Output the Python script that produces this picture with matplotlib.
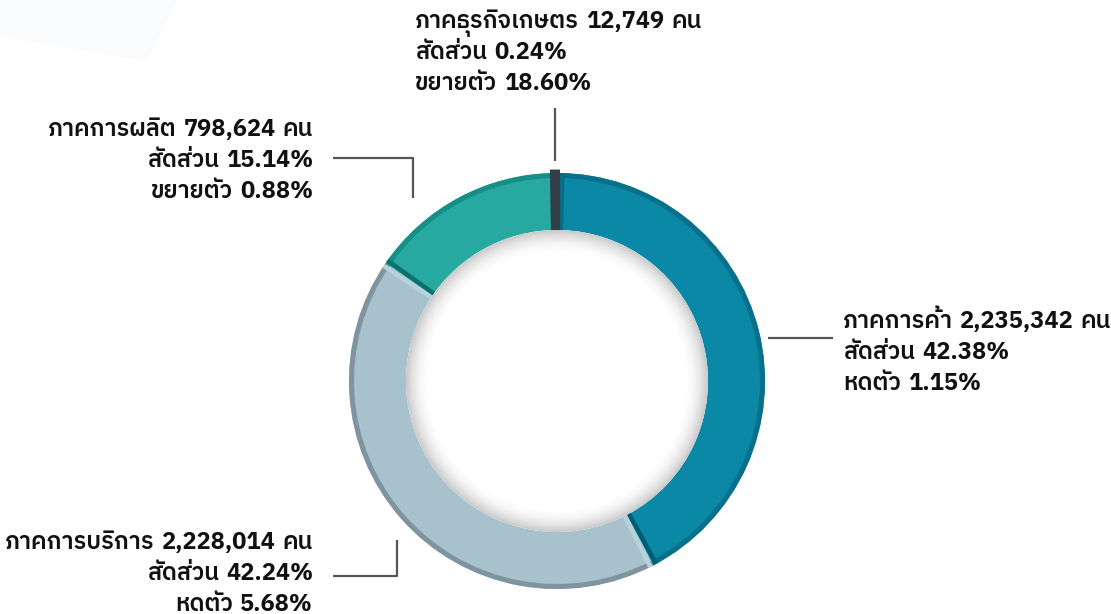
import numpy as np
import matplotlib
matplotlib.use("Agg")
import matplotlib.pyplot as plt
from matplotlib.patches import Circle, Polygon
from matplotlib.transforms import IdentityTransform

# data
sectors = ["ภาคธุรกิจเกษตร", "ภาคการค้า", "ภาคการบริการ", "ภาคการผลิต"]
workers = [12749, 2235342, 2228014, 798624]
shares = ["0.24%", "42.38%", "42.24%", "15.14%"]
growth_word = ["ขยายตัว", "หดตัว", "หดตัว", "ขยายตัว"]
growth = ["18.60%", "1.15%", "5.68%", "0.88%"]

colors = ["#333e48", "#0b88a6", "#a7c2cd", "#27a9a1"]
edge_colors = ["#222a31", "#08708a", "#7f949e", "#168f89"]

W, H = 1111, 614
fig = plt.figure(figsize=(W / 100, H / 100), dpi=100)
fig.patch.set_facecolor("white")
ax = fig.add_axes([0, 0, 1, 1])

# faint background shape top-left
ax.add_patch(Polygon([(0, H), (178, H), (146, H - 61), (0, H - 36)],
                     closed=True, color="#fafbfd", lw=0, zorder=0))

cx, cy = 557, H - 381
R, ring = 208, 57
start = 91

wedges, _ = ax.pie(workers, colors=colors, startangle=start, counterclock=False,
                   center=(cx, cy), radius=R,
                   wedgeprops=dict(width=ring, linewidth=0, edgecolor="none"))
# the tiny agriculture slice gets a thick outline so it stays visible
wedges[0].set_edgecolor(colors[0])
wedges[0].set_linewidth(5)
wedges[0].set_zorder(4)

# darker outer bevel
ax.pie(workers, colors=edge_colors, startangle=start, counterclock=False,
       center=(cx, cy), radius=R,
       wedgeprops=dict(width=5, linewidth=0, edgecolor="none"))

# dark / light bands along the boundaries
tot = float(sum(workers))
bounds = start - 360 * np.cumsum([0] + workers) / tot
band = [("#0a6c82", bounds[1] - 1.6), ("#005e72", bounds[2] + 0.9),
        ("#b8d2dc", bounds[2] - 0.9), ("#b8d2dc", bounds[3] + 0.9),
        ("#0a716c", bounds[3] - 0.9)]
for c, a in band:
    t = np.deg2rad(a)
    ax.plot([cx + (R - ring) * np.cos(t), cx + R * np.cos(t)],
            [cy + (R - ring) * np.sin(t), cy + R * np.sin(t)],
            color=c, lw=3.2, solid_capstyle="butt", zorder=3)

# inner shadow of the hole
r_in = R - ring
n = 400
xs = np.linspace(cx - r_in, cx + r_in, n)
ys = np.linspace(cy - r_in, cy + r_in, n)
X, Y = np.meshgrid(xs, ys)
d = np.hypot(X - cx, Y - cy)
a = np.clip((d - (r_in - 24)) / 24, 0, 1) ** 2 * 0.38
img = np.zeros((n, n, 4))
img[..., :3] = 0.45
img[..., 3] = a
hole = Circle((cx, cy), r_in, transform=ax.transData, facecolor="white",
              edgecolor="none", zorder=5)
ax.add_patch(hole)
im = ax.imshow(img, extent=(cx - r_in, cx + r_in, cy - r_in, cy + r_in),
               origin="lower", zorder=6, interpolation="bilinear")
im.set_clip_path(hole)

# leader lines
lc = "#555555"
leaders = [
    [(555, 108), (555, 161)],
    [(333, 158), (413, 158), (413, 198)],
    [(768, 338), (833, 338)],
    [(333, 576), (397, 576), (397, 540)],
]
for pts in leaders:
    ax.plot([p[0] for p in pts], [H - p[1] for p in pts], color=lc, lw=1.6,
            zorder=7, solid_capstyle="butt")

ax.set_xlim(0, W)
ax.set_ylim(0, H)
ax.set_aspect("auto")
ax.axis("off")

# labels with mixed weights
fam = ["IBM Plex Sans Thai", "DejaVu Sans"]
fs = 17
renderer = fig.canvas.get_renderer()


def rich_line(x, y, parts, ha="left"):
    objs = []
    for s, bold in parts:
        t = fig.text(0, 0, s, transform=IdentityTransform(), fontsize=fs,
                     family=fam, weight="bold" if bold else "semibold",
                     color="#111111", va="baseline", ha="left")
        objs.append(t)
    gap = 7
    widths = [t.get_window_extent(renderer).width for t in objs]
    total = sum(widths) + gap * (len(objs) - 1)
    x0 = x if ha == "left" else x - total
    for t, w in zip(objs, widths):
        t.set_position((x0, H - y))
        x0 += w + gap


def label(x, y, i, ha):
    rich_line(x, y, [(sectors[i], False), (f"{workers[i]:,}", True), ("คน", False)], ha)
    rich_line(x, y + 31, [("สัดส่วน", False), (shares[i], True)], ha)
    rich_line(x, y + 62, [(growth_word[i], False), (growth[i], True)], ha)


label(415, 28, 0, "left")
label(843, 328, 1, "left")
label(313, 549, 2, "right")
label(313, 136, 3, "right")

fig.savefig("out.png", dpi=100)
